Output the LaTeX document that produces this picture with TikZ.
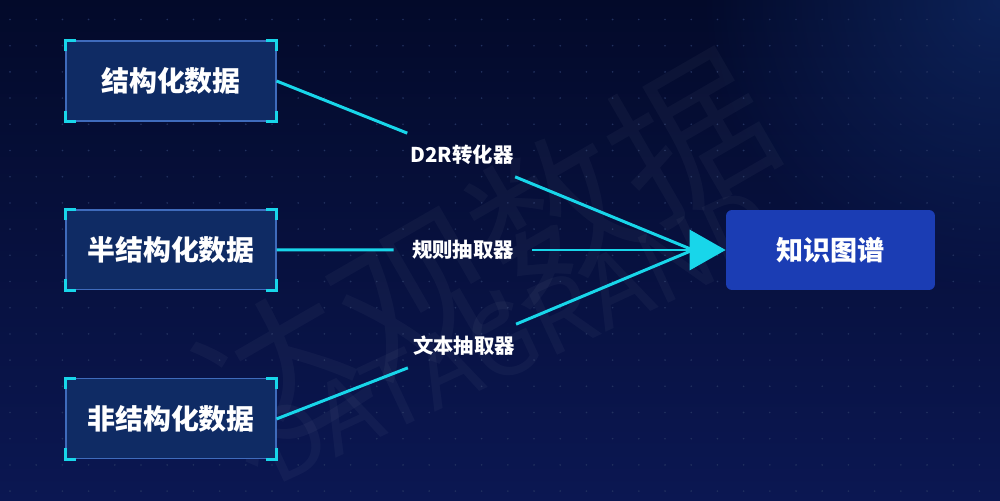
\documentclass[tikz,border=0pt]{standalone}
\usepackage{fontspec}
\newfontfamily\cjk{Noto Sans CJK SC}
\usepackage{xcolor}
\usepackage{tikz}
\usetikzlibrary{
    positioning,
    calc,
    arrows.meta,
    fadings
}
\definecolor{bgtop}{HTML}{030A2A}
\definecolor{bgbottom}{HTML}{0B1752}
\definecolor{glowblue}{HTML}{14357C}
\definecolor{dotgrey}{HTML}{22315F}
\definecolor{boxfill}{HTML}{0F2B64}
\definecolor{boxline}{HTML}{3F6BBC}
\definecolor{edgecyan}{HTML}{18D6EA}
\definecolor{kgblue}{HTML}{1B3DB4}
\tikzfading[name=glowfade, inner color=transparent!0, outer color=transparent!100]
\tikzset{
  datanode/.style = {
      draw=boxline,
      line width=0.6pt,
      fill=boxfill,
      minimum width=4.2cm,
      minimum height=1.6cm,
      inner sep=0pt,
      text=white,
      font=\cjk\bfseries\fontsize{15.9}{19}\selectfont
  },
  kgnode/.style = {
      fill=kgblue,
      rounded corners=0.12cm,
      minimum width=4.18cm,
      minimum height=1.6cm,
      inner sep=0pt,
      text=white,
      font=\cjk\bfseries\fontsize{15.4}{19}\selectfont
  },
  extractor/.style = {
      minimum width=2.76cm,
      minimum height=0.86cm,
      inner sep=0pt,
      text=white,
      font=\cjk\bfseries\fontsize{11.6}{14}\selectfont
  },
  corner/.style = {
      draw=edgecyan,
      line width=1.6pt
  },
  flow/.style = {
      draw=edgecyan,
      line width=1.7pt
  },
  wmark/.style = {
      text=white,
      opacity=0.035,
      inner sep=0pt
  }
}

\begin{document}
\begin{tikzpicture}[x=0.02cm, y=-0.02cm, node distance=3.38cm]
    \useasboundingbox (0,0) rectangle (1000,500);
    % Background
    \begin{scope}
      \clip (0,0) rectangle (1000,500);
      \shade[top color=bgtop, bottom color=bgbottom] (0,0) rectangle (1000,500);
      \fill[glowblue, path fading=glowfade, opacity=0.55] (1000,0) circle (300);
      \foreach \i in {0,...,37}
        \foreach \j in {0,...,18}
          \fill[dotgrey] (10+26.2*\i, 19.5+26.2*\j) circle (0.9);
      % Watermark
      \node[wmark, rotate=30, font=\cjk\fontsize{90}{90}\selectfont] (wm1) at (485,255) {达观数据};
      \node[wmark, rotate=25, font=\cjk\fontsize{56}{56}\selectfont] (wm2) at (515,335) {DATAGRAND};
    \end{scope}
    % Nodes
    \node[datanode] (s1) at (171,81) {结构化数据};
    \node[datanode, below of=s1] (s2) {半结构化数据};
    \node[datanode, below of=s2] (s3) {非结构化数据};
    \node[kgnode] (kg) at (830.5,250) {知识图谱};
    \node[extractor] (p1) at (462,155) {D2R转化器};
    \node[extractor] (p2) at (463,250) {规则抽取器};
    \node[extractor] (p3) at (464,346) {文本抽取器};
    \coordinate (hub) at (693,250);
    % Corners
    \foreach \b in {s1,s2,s3} {
      \draw[corner] ($(\b.north west)+(0,-0.22cm)$) -- (\b.north west) -- ++(0.22cm,0);
      \draw[corner] ($(\b.north east)+(0,-0.22cm)$) -- (\b.north east) -- ++(-0.22cm,0);
      \draw[corner] ($(\b.south west)+(0,0.22cm)$) -- (\b.south west) -- ++(0.22cm,0);
      \draw[corner] ($(\b.south east)+(0,0.22cm)$) -- (\b.south east) -- ++(-0.22cm,0);
    }
    % Edges
    \path[flow]
    (s1.east) -- (p1) (p1) -- (hub)
    (s2.east) -- (p2)
    (s3.east) -- (p3) (p3) -- (hub);
    \path[flow, -{Triangle[length=0.72cm, width=0.8cm]}] (p2) -- (kg.west);
\end{tikzpicture}
\end{document}
